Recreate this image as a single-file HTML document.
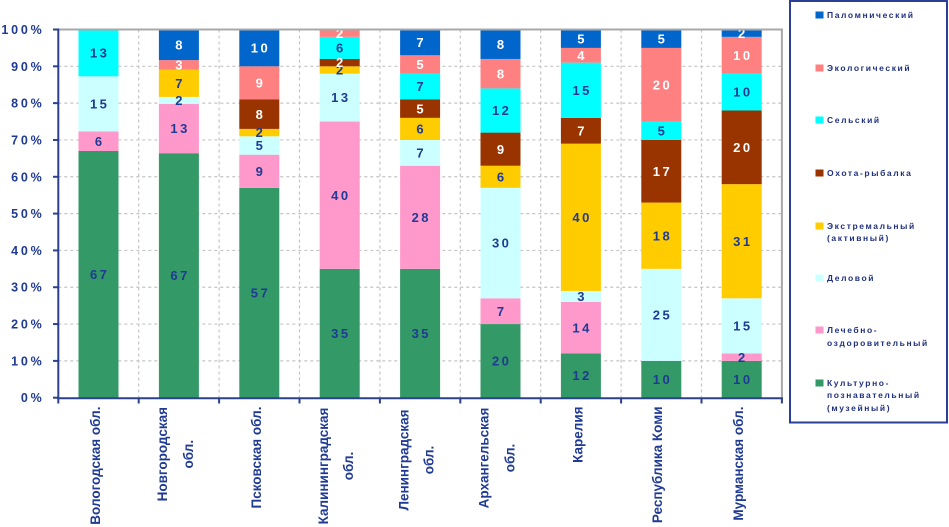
<!DOCTYPE html>
<html><head><meta charset="utf-8"><style>
html,body{margin:0;padding:0;background:#fff;}
svg{display:block;}
.dl{font-family:"Liberation Sans",sans-serif;font-weight:bold;font-size:13px;letter-spacing:2.5px;text-anchor:middle;}
.dk{fill:#1f3a93;}
.wh{fill:#ffffff;}
.yl{font-family:"Liberation Sans",sans-serif;font-weight:bold;font-size:12.5px;letter-spacing:2.8px;text-anchor:end;fill:#1f3a93;}
.xl{font-family:"Liberation Sans",sans-serif;font-weight:bold;font-size:13.5px;fill:#1f3a93;}
.lg{font-family:"Liberation Sans",sans-serif;font-weight:bold;font-size:8.5px;letter-spacing:1.6px;fill:#1f3080;}
</style></head><body>
<svg width="949" height="527" viewBox="0 0 949 527" xmlns="http://www.w3.org/2000/svg">
<rect x="0" y="0" width="949" height="527" fill="#fff"/>
<!-- gridlines -->
<g stroke="#c4c4c4" stroke-width="1.2" stroke-dasharray="3,3">
<line x1="58.3" y1="360.88" x2="781.9" y2="360.88"/>
<line x1="58.3" y1="324.06" x2="781.9" y2="324.06"/>
<line x1="58.3" y1="287.24" x2="781.9" y2="287.24"/>
<line x1="58.3" y1="250.42" x2="781.9" y2="250.42"/>
<line x1="58.3" y1="213.6" x2="781.9" y2="213.6"/>
<line x1="58.3" y1="176.78" x2="781.9" y2="176.78"/>
<line x1="58.3" y1="139.96" x2="781.9" y2="139.96"/>
<line x1="58.3" y1="103.14" x2="781.9" y2="103.14"/>
<line x1="58.3" y1="66.32" x2="781.9" y2="66.32"/>
<line x1="138.7" y1="29.5" x2="138.7" y2="397.7"/>
<line x1="219.1" y1="29.5" x2="219.1" y2="397.7"/>
<line x1="299.5" y1="29.5" x2="299.5" y2="397.7"/>
<line x1="379.9" y1="29.5" x2="379.9" y2="397.7"/>
<line x1="460.3" y1="29.5" x2="460.3" y2="397.7"/>
<line x1="540.7" y1="29.5" x2="540.7" y2="397.7"/>
<line x1="621.1" y1="29.5" x2="621.1" y2="397.7"/>
<line x1="701.5" y1="29.5" x2="701.5" y2="397.7"/>
</g>

<!-- Bar 1 -->
<rect x="78.5" y="151.0" width="40" height="246.7" fill="#339966"/>
<rect x="78.5" y="131.5" width="40" height="19.5" fill="#ff99cc"/>
<rect x="78.5" y="76.3" width="40" height="55.2" fill="#ccffff"/>
<rect x="78.5" y="29.5" width="40" height="46.8" fill="#00ffff"/>
<text class="dl dk" x="99.7" y="279">67</text>
<text class="dl dk" x="99.7" y="145.8">6</text>
<text class="dl dk" x="99.7" y="108.5">15</text>
<text class="dl dk" x="99.7" y="57.5">13</text>

<!-- Bar 2 -->
<rect x="158.9" y="153.2" width="40" height="244.5" fill="#339966"/>
<rect x="158.9" y="103.9" width="40" height="49.3" fill="#ff99cc"/>
<rect x="158.9" y="96.9" width="40" height="7" fill="#ccffff"/>
<rect x="158.9" y="69.6" width="40" height="27.3" fill="#ffcc00"/>
<rect x="158.9" y="60.1" width="40" height="9.5" fill="#ff8080"/>
<rect x="158.9" y="29.5" width="40" height="30.6" fill="#0066cc"/>
<text class="dl dk" x="180.1" y="280">67</text>
<text class="dl dk" x="180.1" y="133.1">13</text>
<text class="dl dk" x="180.1" y="105">2</text>
<text class="dl dk" x="180.1" y="87.8">7</text>
<text class="dl wh" x="180.1" y="69.4">3</text>
<text class="dl wh" x="180.1" y="49.4">8</text>

<!-- Bar 3 -->
<rect x="239.3" y="187.8" width="40" height="209.9" fill="#339966"/>
<rect x="239.3" y="154.7" width="40" height="33.1" fill="#ff99cc"/>
<rect x="239.3" y="136.3" width="40" height="18.4" fill="#ccffff"/>
<rect x="239.3" y="128.9" width="40" height="7.4" fill="#ffcc00"/>
<rect x="239.3" y="99.5" width="40" height="29.4" fill="#993300"/>
<rect x="239.3" y="66.3" width="40" height="33.2" fill="#ff8080"/>
<rect x="239.3" y="29.5" width="40" height="36.8" fill="#0066cc"/>
<text class="dl dk" x="260.5" y="297.3">57</text>
<text class="dl dk" x="260.5" y="175.8">9</text>
<text class="dl dk" x="260.5" y="150.1">5</text>
<text class="dl dk" x="260.5" y="137.2">2</text>
<text class="dl wh" x="260.5" y="118.8">8</text>
<text class="dl wh" x="260.5" y="87.5">9</text>
<text class="dl wh" x="260.5" y="52.5">10</text>

<!-- Bar 4 -->
<rect x="319.7" y="268.83" width="40" height="128.87" fill="#339966"/>
<rect x="319.7" y="121.55" width="40" height="147.28" fill="#ff99cc"/>
<rect x="319.7" y="73.68" width="40" height="47.87" fill="#ccffff"/>
<rect x="319.7" y="66.32" width="40" height="7.36" fill="#ffcc00"/>
<rect x="319.7" y="58.96" width="40" height="7.36" fill="#993300"/>
<rect x="319.7" y="36.86" width="40" height="22.1" fill="#00ffff"/>
<rect x="319.7" y="29.5" width="40" height="7.36" fill="#ff8080"/>
<text class="dl dk" x="340.9" y="337.8">35</text>
<text class="dl dk" x="340.9" y="199.8">40</text>
<text class="dl dk" x="340.9" y="102.2">13</text>
<text class="dl dk" x="340.9" y="74.6">2</text>
<text class="dl wh" x="340.9" y="67.2">2</text>
<text class="dl dk" x="340.9" y="52.5">6</text>
<text class="dl wh" x="340.9" y="37.8">2</text>

<!-- Bar 5 -->
<rect x="400.1" y="268.83" width="40" height="128.87" fill="#339966"/>
<rect x="400.1" y="165.73" width="40" height="103.1" fill="#ff99cc"/>
<rect x="400.1" y="139.96" width="40" height="25.77" fill="#ccffff"/>
<rect x="400.1" y="117.87" width="40" height="22.09" fill="#ffcc00"/>
<rect x="400.1" y="99.46" width="40" height="18.41" fill="#993300"/>
<rect x="400.1" y="73.68" width="40" height="25.78" fill="#00ffff"/>
<rect x="400.1" y="55.27" width="40" height="18.41" fill="#ff8080"/>
<rect x="400.1" y="29.5" width="40" height="25.77" fill="#0066cc"/>
<text class="dl dk" x="421.3" y="337.8">35</text>
<text class="dl dk" x="421.3" y="221.9">28</text>
<text class="dl dk" x="421.3" y="157.4">7</text>
<text class="dl dk" x="421.3" y="133.5">6</text>
<text class="dl wh" x="421.3" y="113.3">5</text>
<text class="dl dk" x="421.3" y="91.2">7</text>
<text class="dl wh" x="421.3" y="69.1">5</text>
<text class="dl wh" x="421.3" y="47">7</text>

<!-- Bar 6 -->
<rect x="480.5" y="324.06" width="40" height="73.64" fill="#339966"/>
<rect x="480.5" y="298.29" width="40" height="25.77" fill="#ff99cc"/>
<rect x="480.5" y="187.83" width="40" height="110.46" fill="#ccffff"/>
<rect x="480.5" y="165.73" width="40" height="22.1" fill="#ffcc00"/>
<rect x="480.5" y="132.6" width="40" height="33.13" fill="#993300"/>
<rect x="480.5" y="88.41" width="40" height="44.19" fill="#00ffff"/>
<rect x="480.5" y="58.96" width="40" height="29.45" fill="#ff8080"/>
<rect x="480.5" y="29.5" width="40" height="29.46" fill="#0066cc"/>
<text class="dl dk" x="501.7" y="365.5">20</text>
<text class="dl dk" x="501.7" y="315.8">7</text>
<text class="dl dk" x="501.7" y="247.7">30</text>
<text class="dl dk" x="501.7" y="181.4">6</text>
<text class="dl wh" x="501.7" y="153.8">9</text>
<text class="dl dk" x="501.7" y="115.1">12</text>
<text class="dl wh" x="501.7" y="78.3">8</text>
<text class="dl wh" x="501.7" y="48.8">8</text>

<!-- Bar 7 -->
<rect x="560.9" y="353.52" width="40" height="44.18" fill="#339966"/>
<rect x="560.9" y="301.97" width="40" height="51.55" fill="#ff99cc"/>
<rect x="560.9" y="290.92" width="40" height="11.05" fill="#ccffff"/>
<rect x="560.9" y="143.64" width="40" height="147.28" fill="#ffcc00"/>
<rect x="560.9" y="117.87" width="40" height="25.77" fill="#993300"/>
<rect x="560.9" y="62.64" width="40" height="55.23" fill="#00ffff"/>
<rect x="560.9" y="47.91" width="40" height="14.73" fill="#ff8080"/>
<rect x="560.9" y="29.5" width="40" height="18.41" fill="#0066cc"/>
<text class="dl dk" x="582.1" y="380.2">12</text>
<text class="dl dk" x="582.1" y="332.3">14</text>
<text class="dl dk" x="582.1" y="301">3</text>
<text class="dl dk" x="582.1" y="221.9">40</text>
<text class="dl wh" x="582.1" y="135.4">7</text>
<text class="dl dk" x="582.1" y="94.9">15</text>
<text class="dl wh" x="582.1" y="59.9">4</text>
<text class="dl wh" x="582.1" y="43.3">5</text>

<!-- Bar 8 -->
<rect x="641.3" y="360.88" width="40" height="36.82" fill="#339966"/>
<rect x="641.3" y="268.83" width="40" height="92.05" fill="#ccffff"/>
<rect x="641.3" y="202.55" width="40" height="66.28" fill="#ffcc00"/>
<rect x="641.3" y="139.96" width="40" height="62.59" fill="#993300"/>
<rect x="641.3" y="121.55" width="40" height="18.41" fill="#00ffff"/>
<rect x="641.3" y="47.91" width="40" height="73.64" fill="#ff8080"/>
<rect x="641.3" y="29.5" width="40" height="18.41" fill="#0066cc"/>
<text class="dl dk" x="662.5" y="383.9">10</text>
<text class="dl dk" x="662.5" y="319.5">25</text>
<text class="dl dk" x="662.5" y="240.3">18</text>
<text class="dl wh" x="662.5" y="175.9">17</text>
<text class="dl dk" x="662.5" y="135.4">5</text>
<text class="dl wh" x="662.5" y="89.3">20</text>
<text class="dl wh" x="662.5" y="43.3">5</text>

<!-- Bar 9 -->
<rect x="721.7" y="360.88" width="40" height="36.82" fill="#339966"/>
<rect x="721.7" y="353.52" width="40" height="7.36" fill="#ff99cc"/>
<rect x="721.7" y="298.29" width="40" height="55.23" fill="#ccffff"/>
<rect x="721.7" y="184.14" width="40" height="114.15" fill="#ffcc00"/>
<rect x="721.7" y="110.5" width="40" height="73.64" fill="#993300"/>
<rect x="721.7" y="73.68" width="40" height="36.82" fill="#00ffff"/>
<rect x="721.7" y="36.86" width="40" height="36.82" fill="#ff8080"/>
<rect x="721.7" y="29.5" width="40" height="7.36" fill="#0066cc"/>
<text class="dl dk" x="742.9" y="383.9">10</text>
<text class="dl dk" x="742.9" y="361.8">2</text>
<text class="dl dk" x="742.9" y="330.5">15</text>
<text class="dl dk" x="742.9" y="245.8">31</text>
<text class="dl wh" x="742.9" y="151.9">20</text>
<text class="dl dk" x="742.9" y="96.7">10</text>
<text class="dl wh" x="742.9" y="59.9">10</text>
<text class="dl wh" x="742.9" y="37.8">2</text>

<!-- plot border top/right -->
<line x1="58.3" y1="29.5" x2="782.9" y2="29.5" stroke="#a8a8a8" stroke-width="2"/>
<line x1="781.9" y1="29.5" x2="781.9" y2="397.7" stroke="#a8a8a8" stroke-width="2"/>

<!-- axes -->
<g stroke="#2b4190" stroke-width="2">
<line x1="58.3" y1="28.5" x2="58.3" y2="398.3"/>
<line x1="57.3" y1="398.3" x2="782.9" y2="398.3"/>
<line x1="53" y1="397.7" x2="58.3" y2="397.7"/>
<line x1="53" y1="360.88" x2="58.3" y2="360.88"/>
<line x1="53" y1="324.06" x2="58.3" y2="324.06"/>
<line x1="53" y1="287.24" x2="58.3" y2="287.24"/>
<line x1="53" y1="250.42" x2="58.3" y2="250.42"/>
<line x1="53" y1="213.6" x2="58.3" y2="213.6"/>
<line x1="53" y1="176.78" x2="58.3" y2="176.78"/>
<line x1="53" y1="139.96" x2="58.3" y2="139.96"/>
<line x1="53" y1="103.14" x2="58.3" y2="103.14"/>
<line x1="53" y1="66.32" x2="58.3" y2="66.32"/>
<line x1="53" y1="29.5" x2="58.3" y2="29.5"/>
<line x1="58.3" y1="398" x2="58.3" y2="403.5"/>
<line x1="138.7" y1="398" x2="138.7" y2="403.5"/>
<line x1="219.1" y1="398" x2="219.1" y2="403.5"/>
<line x1="299.5" y1="398" x2="299.5" y2="403.5"/>
<line x1="379.9" y1="398" x2="379.9" y2="403.5"/>
<line x1="460.3" y1="398" x2="460.3" y2="403.5"/>
<line x1="540.7" y1="398" x2="540.7" y2="403.5"/>
<line x1="621.1" y1="398" x2="621.1" y2="403.5"/>
<line x1="701.5" y1="398" x2="701.5" y2="403.5"/>
<line x1="781.9" y1="398" x2="781.9" y2="403.5"/>
</g>

<!-- y labels -->
<text class="yl" x="44.5" y="402.2">0%</text>
<text class="yl" x="44.5" y="365.4">10%</text>
<text class="yl" x="44.5" y="328.6">20%</text>
<text class="yl" x="44.5" y="291.7">30%</text>
<text class="yl" x="44.5" y="254.9">40%</text>
<text class="yl" x="44.5" y="218.1">50%</text>
<text class="yl" x="44.5" y="181.3">60%</text>
<text class="yl" x="44.5" y="144.5">70%</text>
<text class="yl" x="44.5" y="107.6">80%</text>
<text class="yl" x="44.5" y="70.8">90%</text>
<text class="yl" x="44.5" y="34">100%</text>

<!-- x labels -->
<text class="xl" text-anchor="end" transform="translate(100,406.5) rotate(-90)">Вологодская обл.</text>
<text class="xl" text-anchor="middle" transform="translate(167,454.2) rotate(-90)">Новгородская</text>
<text class="xl" text-anchor="middle" transform="translate(193,454.2) rotate(-90)">обл.</text>
<text class="xl" text-anchor="end" transform="translate(261,406.5) rotate(-90)">Псковская обл.</text>
<text class="xl" text-anchor="middle" transform="translate(328,466) rotate(-90)">Калининградская</text>
<text class="xl" text-anchor="middle" transform="translate(353,466) rotate(-90)">обл.</text>
<text class="xl" text-anchor="middle" transform="translate(408.3,460) rotate(-90)">Ленинградская</text>
<text class="xl" text-anchor="middle" transform="translate(433.3,460) rotate(-90)">обл.</text>
<text class="xl" text-anchor="middle" transform="translate(488.3,458) rotate(-90)">Архангельская</text>
<text class="xl" text-anchor="middle" transform="translate(514.5,458) rotate(-90)">обл.</text>
<text class="xl" text-anchor="end" transform="translate(582.5,406.5) rotate(-90)">Карелия</text>
<text class="xl" text-anchor="end" transform="translate(661.8,406.5) rotate(-90)">Республика Коми</text>
<text class="xl" text-anchor="end" transform="translate(743,406.5) rotate(-90)">Мурманская обл.</text>

<!-- legend -->
<rect x="790" y="1" width="157" height="421.5" fill="#fff" stroke="#2a3f95" stroke-width="2"/>
<rect x="815.5" y="11.5" width="8" height="7" fill="#0066cc"/>
<text class="lg" x="827" y="18">Паломнический</text>
<rect x="815.5" y="64.5" width="8" height="7" fill="#ff8080"/>
<text class="lg" x="827" y="71">Экологический</text>
<rect x="815.5" y="116.5" width="8" height="7" fill="#00ffff"/>
<text class="lg" x="827" y="123">Сельский</text>
<rect x="815.5" y="169.5" width="8" height="7" fill="#993300"/>
<text class="lg" x="827" y="176">Охота-рыбалка</text>
<rect x="815.5" y="222.5" width="8" height="7" fill="#ffcc00"/>
<text class="lg" x="827" y="229">Экстремальный</text>
<text class="lg" x="827" y="241">(активный)</text>
<rect x="815.5" y="274.5" width="8" height="7" fill="#ccffff"/>
<text class="lg" x="827" y="281">Деловой</text>
<rect x="815.5" y="326.5" width="8" height="7" fill="#ff99cc"/>
<text class="lg" x="827" y="333">Лечебно-</text>
<text class="lg" x="827" y="346">оздоровительный</text>
<rect x="815.5" y="379.5" width="8" height="7" fill="#339966"/>
<text class="lg" x="827" y="386">Культурно-</text>
<text class="lg" x="827" y="398">познавательный</text>
<text class="lg" x="827" y="411">(музейный)</text>
</svg>
</body></html>
